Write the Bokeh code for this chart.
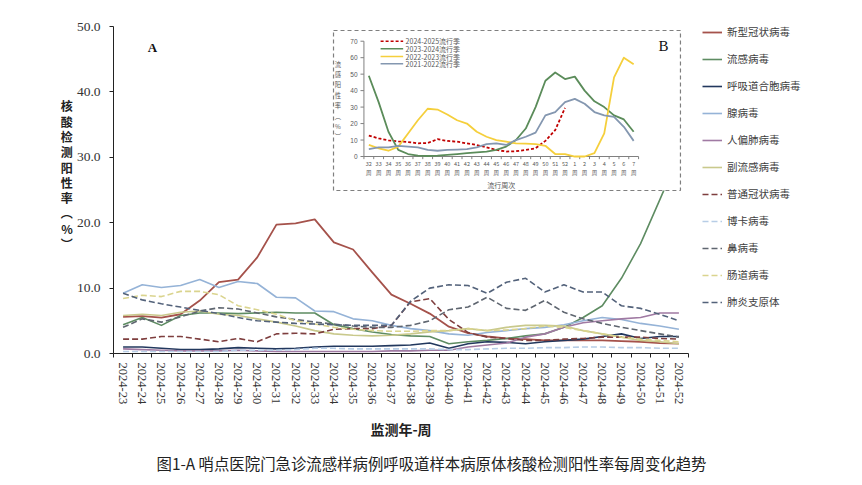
import math
from bokeh.plotting import figure
from bokeh.models import (Range1d, LinearAxis, FixedTicker, Title,
                          Legend, LegendItem, Label, PrintfTickFormatter)
from bokeh.core.properties import value
from bokeh.embed import file_html
from bokeh.resources import INLINE

# ---------------- data (main chart) ----------------
weeks = ["2024-23", "2024-24", "2024-25", "2024-26", "2024-27", "2024-28", "2024-29", "2024-30",
         "2024-31", "2024-32", "2024-33", "2024-34", "2024-35", "2024-36", "2024-37", "2024-38",
         "2024-39", "2024-40", "2024-41", "2024-42", "2024-43", "2024-44", "2024-45", "2024-46",
         "2024-47", "2024-48", "2024-49", "2024-50", "2024-51", "2024-52"]
y_ticks = [0, 10, 20, 30, 40, 50]

covid = [5.6, 5.7, 5.5, 6.0, 8.1, 10.9, 11.3, 14.7, 19.7, 19.9, 20.5, 17.0, 15.9, 12.4, 9.0,
         7.6, 6.1, 4.1, 3.1, 2.6, 2.3, 2.2, 2.0, 2.0, 2.0, 2.0, 1.9, 1.8, 1.6, 1.5]
flu = [4.4, 5.5, 4.3, 5.8, 6.2, 6.2, 6.1, 6.2, 6.3, 6.2, 6.2, 4.4, 3.8, 3.3, 2.9, 2.7, 2.6,
       1.5, 1.8, 2.0, 2.3, 2.7, 3.0, 4.0, 5.5, 7.3, 11.5, 16.8, 23.5, 30.3]
rsv = [1.0, 1.0, 0.8, 0.6, 0.6, 0.7, 0.9, 0.8, 0.7, 0.8, 1.0, 1.1, 1.1, 1.1, 1.2, 1.3, 1.6,
       0.8, 1.5, 1.8, 1.7, 1.5, 1.8, 2.0, 2.2, 2.6, 3.0, 2.3, 2.6, 2.6]
adeno = [9.2, 10.5, 10.1, 10.4, 11.3, 10.1, 11.0, 10.7, 8.6, 8.5, 6.5, 6.4, 5.3, 5.0, 4.3, 3.8,
         3.5, 3.0, 2.8, 3.2, 3.5, 3.8, 4.0, 4.4, 5.0, 5.5, 5.2, 4.6, 4.2, 3.7]
hmpv = [0.7, 0.6, 0.5, 0.4, 0.4, 0.4, 0.5, 0.4, 0.3, 0.3, 0.3, 0.3, 0.3, 0.3, 0.4, 0.4, 0.5,
        0.5, 1.0, 1.3, 1.6, 2.5, 3.0, 4.0, 4.7, 5.0, 5.3, 5.5, 6.2, 6.2]
parainf = [5.8, 6.0, 5.8, 6.3, 6.5, 6.0, 5.8, 5.3, 4.8, 4.2, 3.5, 3.0, 2.8, 2.7, 2.8, 3.0,
           3.3, 3.5, 3.8, 3.5, 4.0, 4.3, 4.3, 4.2, 3.5, 3.0, 2.5, 2.0, 1.8, 1.5]
hcov = [2.2, 2.2, 2.6, 2.6, 2.2, 1.8, 2.3, 1.8, 3.0, 3.1, 3.0, 3.7, 3.8, 3.8, 4.3, 7.9, 8.4,
        5.2, 3.2, 2.5, 2.3, 2.0, 2.0, 2.2, 2.3, 2.5, 2.5, 2.5, 2.3, 2.2]
boca = [0.3, 0.3, 0.3, 0.3, 0.3, 0.3, 0.5, 0.5, 0.5, 0.6, 0.8, 0.8, 0.7, 0.7, 0.7, 0.7, 0.7,
        0.6, 0.6, 0.7, 0.8, 0.8, 0.9, 0.9, 1.0, 1.0, 0.9, 0.9, 0.8, 0.8]
rhino = [4.0, 5.3, 4.8, 5.6, 6.5, 7.0, 6.8, 6.2, 5.6, 5.2, 4.8, 4.5, 4.2, 4.0, 4.0, 4.3, 5.0,
         6.7, 7.1, 8.6, 6.9, 6.6, 8.1, 6.3, 5.3, 4.6, 4.0, 3.5, 3.0, 2.5]
entero = [8.4, 8.9, 8.7, 9.5, 9.5, 9.0, 7.3, 6.7, 6.0, 5.0, 4.5, 4.0, 3.7, 3.5, 3.4, 3.4, 3.5,
          3.5, 3.8, 3.5, 3.6, 3.8, 4.2, 4.0, 3.5, 3.0, 2.5, 2.2, 2.0, 1.8]
mp = [9.2, 8.2, 7.6, 7.1, 6.6, 6.1, 5.5, 5.0, 4.8, 4.6, 4.5, 4.4, 4.3, 4.3, 4.3, 8.0, 10.0,
      10.5, 10.4, 9.2, 10.9, 11.5, 9.4, 10.5, 9.4, 9.4, 7.3, 6.9, 6.0, 5.0]

series_names = ["新型冠状病毒", "流感病毒", "呼吸道合胞病毒", "腺病毒", "人偏肺病毒", "副流感病毒",
                "普通冠状病毒", "博卡病毒", "鼻病毒", "肠道病毒", "肺炎支原体"]
series_values = [covid, flu, rsv, adeno, hmpv, parainf, hcov, boca, rhino, entero, mp]
series_colors = ["#A5524B", "#5E8C62", "#22385E", "#95B3D7", "#A07AA3", "#C9C98C",
                 "#7E3E3E", "#B7CDE6", "#5F6670", "#DAD48E", "#53627A"]
series_dashed = [False, False, False, False, False, False, True, True, True, True, True]
series_widths = [1.8, 1.6, 1.6, 1.6, 1.6, 1.6, 1.6, 1.6, 1.6, 1.6, 1.6]

# ---------------- data (inset) ----------------
inset_weeks = ["32", "33", "34", "35", "36", "37", "38", "39", "40", "41", "42", "43", "44", "45",
               "46", "47", "48", "49", "50", "51", "52", "1", "2", "3", "4", "5", "6", "7"]
inset_yticks = [0, 10, 20, 30, 40, 50, 60, 70]
s2024 = [12.7, 11.0, 9.8, 9.2, 8.8, 8.0, 8.2, 10.5, 9.5, 9.0, 8.0, 7.0, 5.5, 4.0, 3.0, 3.2,
         4.0, 5.0, 9.5, 16.0, 29.5]
s2023 = [49.0, 33.0, 15.0, 4.0, 1.5, 0.5, 0.3, 0.5, 1.0, 1.5, 2.0, 2.5, 3.0, 4.0, 6.0, 10.0,
         17.0, 30.0, 46.0, 51.0, 47.0, 48.5, 40.0, 33.5, 30.0, 25.0, 22.5, 15.0]
s2022 = [7.0, 5.0, 3.5, 6.0, 14.0, 22.0, 29.0, 28.5, 25.5, 22.0, 20.0, 15.0, 12.0, 10.0, 9.0,
         8.0, 7.8, 7.5, 6.5, 1.5, 1.5, 0.0, 0.0, 2.0, 14.0, 48.0, 60.0, 56.0]
s2021 = [4.5, 5.5, 5.5, 6.5, 6.0, 5.5, 4.0, 3.5, 4.0, 4.2, 4.5, 5.5, 7.5, 8.0, 7.0, 10.0,
         12.0, 14.5, 25.0, 27.0, 33.0, 35.0, 32.0, 27.0, 25.0, 24.0, 18.0, 9.5]
inset_names = ["2024-2025流行季", "2023-2024流行季", "2022-2023流行季", "2021-2022流行季"]
inset_values = [s2024, s2023, s2022, s2021]
inset_colors = ["#C00000", "#5B8C5A", "#F5CF3C", "#8497B0"]

CJK = "Noto Sans CJK SC"
SERIF = "Liberation Serif"

n = len(weeks)
x_pos = [i + 0.5 for i in range(n)]          # category centres on the linear scale

p = figure(x_range=Range1d(0, n), y_range=Range1d(0, 50),
           frame_width=575, frame_height=327,
           min_border_left=113, min_border_right=166, min_border_top=26, min_border_bottom=128,
           output_backend="svg", toolbar_location=None, x_axis_type=None, y_axis_type=None)
p.outline_line_color = None
p.grid.visible = False
p.background_fill_color = "white"

p.extra_x_ranges = {"ix": Range1d(-26.03, 32.59)}
p.extra_y_ranges = {"iy": Range1d(-119.6, 78.93)}

# y axis
yax = LinearAxis(ticker=FixedTicker(ticks=y_ticks), formatter=PrintfTickFormatter(format="%.1f"),
                 major_tick_out=4, major_tick_in=0, minor_tick_line_color=None,
                 axis_line_color="#222222", major_tick_line_color="#222222",
                 major_label_text_font=SERIF, major_label_text_font_size="13.5px",
                 major_label_text_color="#333333", major_label_standoff=9)
ylabel_text = "核\n酸\n检\n测\n阳\n性\n率\n︵\n%\n︶"
use_axis_label = hasattr(yax, "axis_label_orientation")
if use_axis_label:
    yax.axis_label = ylabel_text + "\n\u3000\n\u3000"
    yax.axis_label_orientation = "horizontal"
    yax.axis_label_standoff = 1
    yax.axis_label_text_font = CJK
    yax.axis_label_text_font_size = "12px"
    yax.axis_label_text_font_style = "bold"
    yax.axis_label_text_color = "#222222"
    yax.axis_label_text_line_height = 0.9
p.add_layout(yax, "left")

if not use_axis_label:
    ylab_chars = ylabel_text.split("\n")
    ylab_pos = [37.0, 34.7, 32.4, 30.1, 27.8, 25.5, 23.2, 21.2, 19.3, 17.4]
    ylab_ax = LinearAxis(ticker=FixedTicker(ticks=ylab_pos),
                         major_label_overrides={v: c for v, c in zip(ylab_pos, ylab_chars)},
                         major_tick_line_color=None, minor_tick_line_color=None, axis_line_color=None,
                         major_tick_out=0, major_tick_in=0, major_label_standoff=2,
                         major_label_text_font=CJK, major_label_text_font_size="12px",
                         major_label_text_font_style="bold", major_label_text_color="#222222")
    p.add_layout(ylab_ax, "left")

# x axis: tick marks between categories (minor), labels at category centres
xax = LinearAxis(ticker=FixedTicker(ticks=x_pos, minor_ticks=list(range(n + 1))),
                 major_label_overrides={x: w for x, w in zip(x_pos, weeks)},
                 major_tick_line_color=None, major_tick_out=4, major_tick_in=0,
                 minor_tick_line_color="#222222", minor_tick_out=4, minor_tick_in=0,
                 axis_line_color="#222222",
                 major_label_orientation=-math.pi / 2, major_label_standoff=5,
                 major_label_text_font=SERIF, major_label_text_font_size="12.5px",
                 major_label_text_color="#333333",
                 axis_label="监测年-周", axis_label_standoff=12,
                 axis_label_text_font=CJK, axis_label_text_font_size="14px",
                 axis_label_text_font_style="bold", axis_label_text_color="#222222")
p.add_layout(xax, "below")

p.add_layout(Title(text="图1-A   哨点医院门急诊流感样病例呼吸道样本病原体核酸检测阳性率每周变化趋势",
                   align="left", offset=43, standoff=14, text_font=CJK, text_font_size="15.4px",
                   text_font_style="normal", text_color="#222222"), "below")

# main series
main_items = []
for name, vals, col, dashed, w in zip(series_names, series_values, series_colors, series_dashed, series_widths):
    r = p.line(x=x_pos, y=vals, line_color=col, line_width=w,
               line_dash=("6 3" if dashed else "solid"), line_join="round")
    main_items.append(LegendItem(label=name, renderers=[r]))

legend = Legend(items=main_items, location=(14, 44), glyph_width=20, glyph_height=14,
                label_height=14, spacing=12, padding=0, margin=0, label_standoff=5,
                border_line_color=None, background_fill_alpha=0,
                label_text_font=CJK, label_text_font_size="10.5px", label_text_color="#404040")
p.add_layout(legend, "right")

# ---------------- inset ----------------
p.quad(left=-3.6, right=31.77, bottom=-20.64, top=76.5, x_range_name="ix", y_range_name="iy",
       fill_color="white", line_color="#7F7F7F", line_dash="4 3", line_width=1.2)

inset_idx = list(range(len(inset_weeks)))
p.segment(x0=[-0.5], y0=[0], x1=[len(inset_weeks) - 0.5], y1=[0], x_range_name="ix", y_range_name="iy",
          line_color="#808080", line_width=1)
p.segment(x0=[-0.5], y0=[0], x1=[-0.5], y1=[inset_yticks[-1]], x_range_name="ix", y_range_name="iy",
          line_color="#808080", line_width=1)
p.segment(x0=[-0.85] * len(inset_yticks), y0=inset_yticks, x1=[-0.5] * len(inset_yticks), y1=inset_yticks,
          x_range_name="ix", y_range_name="iy", line_color="#808080", line_width=1)
bounds = [i - 0.5 for i in range(len(inset_weeks) + 1)]
p.segment(x0=bounds, y0=[0] * len(bounds), x1=bounds, y1=[-1.6] * len(bounds),
          x_range_name="ix", y_range_name="iy", line_color="#808080", line_width=1)
p.text(x=[-1.15] * len(inset_yticks), y=inset_yticks, text=[str(v) for v in inset_yticks],
       x_range_name="ix", y_range_name="iy", text_align="right", text_baseline="middle",
       text_font=value("Liberation Sans"), text_font_size="6.5px", text_color="#595959")
p.text(x=inset_idx, y=[-2.4] * len(inset_idx), text=[w + "\n周" for w in inset_weeks],
       x_range_name="ix", y_range_name="iy", text_align="center", text_baseline="top",
       text_font=value(CJK), text_font_size="5.5px", text_color="#595959", text_line_height=1.1)
p.text(x=[13.5], y=[-17], text=["流行周次"], x_range_name="ix", y_range_name="iy",
       text_align="center", text_baseline="middle", text_font=value(CJK),
       text_font_size="7px", text_color="#595959")
p.text(x=[-3.15], y=[34], text=["流\n感\n阳\n性\n率\n︵\n%\n︶"], x_range_name="ix", y_range_name="iy",
       text_align="center", text_baseline="middle", text_font=value(CJK),
       text_font_size="6.3px", text_color="#595959", text_line_height=1.15)

for name, vals, col in zip(inset_names, inset_values, inset_colors):
    dashed = name.startswith("2024")
    p.line(x=inset_idx[:len(vals)], y=vals, x_range_name="ix", y_range_name="iy",
           line_color=col, line_width=1.8, line_dash=("3 2" if dashed else "solid"),
           line_join="round")

# inset key (drawn by hand, top-left of the inset)
key_y = [70.0, 65.4, 60.7, 56.3]
key_dash = ["3 2", "solid", "solid", "solid"]
for ky, name, col, dsh in zip(key_y, inset_names, inset_colors, key_dash):
    p.segment(x0=[1.2], y0=[ky], x1=[3.5], y1=[ky], x_range_name="ix", y_range_name="iy",
              line_color=col, line_width=1.5, line_dash=dsh)
p.text(x=[3.75] * len(key_y), y=key_y, text=inset_names, x_range_name="ix", y_range_name="iy",
       text_align="left", text_baseline="middle", text_font=value(CJK),
       text_font_size="7px", text_color="#595959")

# ---------------- panel letters ----------------
p.add_layout(Label(x=39, y=306, x_units="screen", y_units="screen", text="A",
                   text_align="center", text_baseline="middle", text_font=SERIF,
                   text_font_size="13px", text_font_style="bold", text_color="#111111"))
p.add_layout(Label(x=550, y=308, x_units="screen", y_units="screen", text="B",
                   text_align="center", text_baseline="middle", text_font=SERIF,
                   text_font_size="15px", text_color="#111111"))

open("out.html", "w").write(file_html(p, INLINE))
